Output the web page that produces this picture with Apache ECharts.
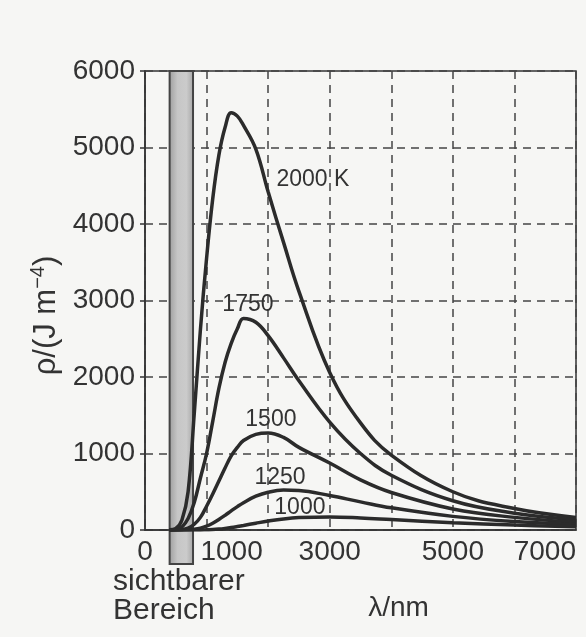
<!DOCTYPE html>
<html>
  <head>
    <meta charset="utf-8" />
    <title>Planck</title>
    <script src="https://cdn.jsdelivr.net/npm/echarts@6/dist/echarts.min.js"></script>
    <style>
      body { margin: 0; background: #f6f6f4; }
    </style>
  </head>
  <body>
    <div id="main" style="width: 586px; height: 637px"></div>
    <script type="text/javascript">
      var wavelengths = [400, 500, 600, 700, 800, 900, 1000, 1100, 1200, 1300, 1400, 1500, 1600, 1800, 2000, 2250, 2500, 3000, 3500, 4000, 5000, 6000, 7000];
      var t2000 = [3, 20, 130, 500, 1520, 2620, 3550, 4330, 4900, 5260, 5455, 5410, 5290, 4980, 4420, 3760, 3120, 2060, 1400, 980, 500, 280, 165];
      var t1750 = [0, 5, 40, 150, 360, 680, 1000, 1420, 1850, 2190, 2440, 2630, 2765, 2715, 2540, 2250, 1950, 1410, 1000, 716, 382, 220, 135];
      var t1500 = [0, 1, 5, 25, 75, 165, 310, 470, 640, 810, 970, 1080, 1170, 1250, 1268, 1210, 1080, 875, 655, 490, 275, 165, 100];
      var t1250 = [0, 0, 0, 2, 9, 24, 50, 89, 137, 192, 250, 306, 357, 442, 494, 522, 517, 450, 368, 290, 178, 110, 71];
      var t1000 = [0, 0, 0, 0, 0, 0, 3, 6, 12, 21, 32, 45, 59, 89, 117, 145, 162, 171, 158, 137, 95, 64, 44];

      var curveNames = ["2000 K", "1750", "1500", "1250", "1000"];
      var curveValues = [t2000, t1750, t1500, t1250, t1000];
      // Beschriftungen der Kurven (in Datenkoordinaten)
      var curveLabelAt = [[2727, 4575], [1672, 2940], [2045, 1438], [2192, 680], [2516, 288]];

      var visibleRange = [400, 780];
      var xTickLabels = [0, 1000, 3000, 5000, 7000];

      var myChart = echarts.init(document.getElementById("main"), null, { renderer: "canvas" });

      var ink = "#2b2b2b";
      var font = "Liberation Sans";

      var series = [
        {
          type: "custom",
          name: "sichtbar",
          z: 1,
          silent: true,
          encode: { x: [0, 1] },
          data: [visibleRange],
          renderItem: function (params, api) {
            var a = api.coord([api.value(0), 6000]);
            var b = api.coord([api.value(1), 0]);
            return {
              type: "rect",
              shape: { x: a[0], y: a[1], width: b[0] - a[0], height: b[1] - a[1] + 34 },
              style: {
                fill: {
                  type: "linear", x: 0, y: 0, x2: 1, y2: 0,
                  colorStops: [
                    { offset: 0, color: "#9c9c9c" },
                    { offset: 0.35, color: "#c6c6c6" },
                    { offset: 0.7, color: "#cbcbcb" },
                    { offset: 1, color: "#a4a4a4" },
                  ],
                },
                stroke: "#444",
                lineWidth: 2,
              },
            };
          },
        },
      ];

      curveValues.forEach(function (vals, i) {
        series.push({
          type: "line",
          name: curveNames[i],
          z: 3,
          smooth: 0.4,
          showSymbol: false,
          lineStyle: { color: ink, width: 3.5 },
          data: wavelengths.map(function (w, k) { return [w, vals[k]]; }),
          markPoint: {
            symbol: "circle",
            symbolSize: 0,
            label: {
              show: true,
              formatter: curveNames[i],
              color: "#333",
              fontFamily: font,
              fontSize: 23,
            },
            data: [{ coord: curveLabelAt[i] }],
          },
        });
      });

      options = {
        backgroundColor: "#f6f6f4",
        animation: false,
        grid: {
          left: 145,
          right: 10,
          top: 71,
          bottom: 107,
          show: true,
          borderColor: "#333",
          borderWidth: 1.5,
        },
        xAxis: {
          type: "value",
          min: 0,
          max: 7000,
          interval: 1000,
          name: "λ/nm",
          nameLocation: "middle",
          nameGap: 64,
          nameTextStyle: { fontFamily: font, fontSize: 28, color: "#333", padding: [0, 0, 0, 76] },
          axisLine: { lineStyle: { color: "#333", width: 1.5 } },
          axisTick: { show: false },
          axisLabel: {
            margin: 8,
            fontFamily: font,
            fontSize: 28,
            color: "#333",
            alignMaxLabel: "right",
            formatter: function (v) {
              if (xTickLabels.indexOf(v) < 0) return "";
              if (v === 1000) return "{s|" + v + "}";
              return String(v);
            },
            rich: { s: { fontFamily: font, fontSize: 28, color: "#333", padding: [0, 0, 0, 50] } },
          },
          splitLine: { show: true, lineStyle: { color: "#444", width: 1.5, type: [8, 6] } },
        },
        yAxis: {
          type: "value",
          min: 0,
          max: 6000,
          interval: 1000,
          name: "{a|ρ/(J m}{b|−4}{a|)}",
          nameLocation: "middle",
          nameRotate: 90,
          nameGap: 80,
          nameTextStyle: {
            padding: [0, 30, 0, 0],
            rich: {
              a: { fontFamily: font, fontSize: 31, color: "#333", lineHeight: 36 },
              b: { fontFamily: font, fontSize: 20, color: "#333", lineHeight: 36, verticalAlign: "top" },
            },
          },
          axisLine: { show: true, lineStyle: { color: "#333", width: 1.5 } },
          axisTick: { show: true, length: 5, lineStyle: { color: "#333", width: 1.5 } },
          axisLabel: {
            margin: 10,
            fontFamily: font,
            fontSize: 28,
            color: "#333",
            formatter: function (v) { return String(v); },
          },
          splitLine: { show: true, lineStyle: { color: "#444", width: 1.5, type: [8, 6] } },
        },
        graphic: [
          {
            type: "text",
            left: 113,
            top: 567,
            style: {
              text: "sichtbarer\nBereich",
              font: "30px " + font,
              lineHeight: 29,
              fill: "#333",
            },
          },
        ],
        series: series,
      };

      myChart.setOption(options);
    </script>
  </body>
</html>
